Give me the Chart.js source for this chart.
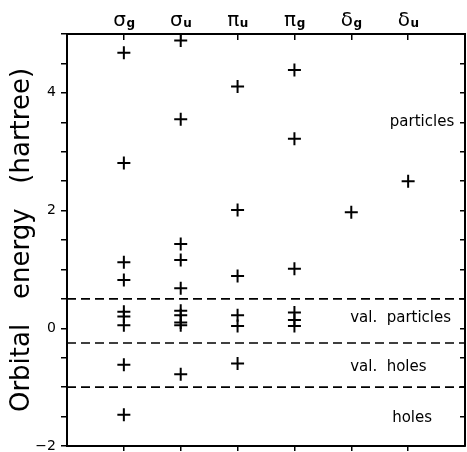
<!DOCTYPE html>
<html>
<head>
<meta charset="utf-8">
<script src="https://cdn.jsdelivr.net/npm/chart.js@4.4.1/dist/chart.umd.min.js"></script>
<style>
  html, body { margin: 0; padding: 0; background: #fff; }
  #wrap { width: 467px; height: 452px; }
</style>
</head>
<body>
<div id="wrap"><canvas id="c" width="467" height="452"></canvas></div>
<script>
// ---- data ----
const symBase = ['σ', 'σ', 'π', 'π', 'δ', 'δ'];
const symSub  = ['g', 'u', 'u', 'g', 'g', 'u'];
const catPos  = [1, 2, 3, 4, 5, 6];

const sigmaG = [4.68, 2.81, 1.12, 0.82, 0.28, 0.20, 0.05, -0.62, -1.47];
const sigmaU = [4.89, 3.55, 1.43, 1.16, 0.68, 0.30, 0.22, 0.10, 0.05, -0.78];
const piU    = [4.11, 2.01, 0.89, 0.22, 0.04, -0.60];
const piG    = [4.39, 3.22, 1.01, 0.27, 0.14, 0.04];
const deltaG = [1.97];
const deltaU = [2.50];

const dividers = [0.5, -0.25, -1.0];
const yTickLabels = [-2, 0, 2, 4];

const regionNames = ['particles', 'val.  particles', 'val.  holes', 'holes'];
const regionCenters = [3.5, 0.18, -0.66, -1.52];

// ---- build ----
const allSeries = [sigmaG, sigmaU, piU, piG, deltaG, deltaU];
const points = [];
allSeries.forEach((arr, i) => arr.forEach(v => points.push({ x: catPos[i], y: v })));

const FONT = "'DejaVu Sans', 'Liberation Sans', sans-serif";

const datasets = [{
  type: 'scatter',
  data: points,
  pointStyle: 'cross',
  pointRadius: 6.5,
  pointBorderWidth: 2,
  borderColor: '#000',
  backgroundColor: '#000',
  order: 1
}];
dividers.forEach(d => datasets.push({
  type: 'line',
  data: [{ x: 0, y: d }, { x: 7, y: d }],
  borderColor: '#000',
  borderWidth: 1.6,
  borderDash: [9, 5],
  pointRadius: 0,
  fill: false,
  order: 2
}));

// region label layout (x anchor in data units, alignment)
const regionLayout = [
  { x: 6.81, align: 'right' },
  { x: 4.98, align: 'left' },
  { x: 4.98, align: 'left' },
  { x: 6.42, align: 'right' }
];

const labelPlugin = {
  id: 'labels',
  afterDraw(chart) {
    const ctx = chart.ctx;
    const xs = chart.scales.x2;
    const ys = chart.scales.y;
    ctx.save();
    ctx.fillStyle = '#000';
    ctx.textBaseline = 'alphabetic';
    // top category labels with subscripts
    for (let i = 0; i < catPos.length; i++) {
      const cx = xs.getPixelForValue(catPos[i]);
      ctx.font = `20px ${FONT}`;
      const w1 = ctx.measureText(symBase[i]).width;
      ctx.font = `bold 12px ${FONT}`;
      const w2 = ctx.measureText(symSub[i]).width;
      const start = cx - (w1 + w2) / 2;
      ctx.textAlign = 'left';
      ctx.font = `20px ${FONT}`;
      ctx.fillText(symBase[i], start, 26);
      ctx.font = `bold 12px ${FONT}`;
      ctx.fillText(symSub[i], start + w1 + 0.5, 27);
    }
    // region labels
    ctx.font = `15px ${FONT}`;
    ctx.textBaseline = 'middle';
    for (let i = 0; i < regionNames.length; i++) {
      const px = chart.scales.x.getPixelForValue(regionLayout[i].x);
      const py = ys.getPixelForValue(regionCenters[i]);
      ctx.textAlign = regionLayout[i].align;
      ctx.fillText(regionNames[i], px, py);
    }
    ctx.restore();
  }
};

function catTicks(scale) {
  scale.ticks = catPos.map(v => ({ value: v }));
}
function noPad(s) {
  s.paddingTop = 0; s.paddingBottom = 0; s.paddingLeft = 0; s.paddingRight = 0;
}

new Chart(document.getElementById('c'), {
  data: { datasets },
  options: {
    responsive: false,
    animation: false,
    events: [],
    layout: { padding: 0, autoPadding: false },
    plugins: { legend: { display: false }, tooltip: { enabled: false } },
    scales: {
      x: {
        type: 'linear', position: 'bottom', min: 0, max: 7,
        afterBuildTicks: catTicks,
        ticks: { display: false },
        grid: { drawOnChartArea: false, drawTicks: true, tickLength: 5, color: '#000', lineWidth: 1.5 },
        border: { display: true, color: '#000', width: 2 },
        afterFit(s) { s.height = 6; noPad(s); }
      },
      x2: {
        type: 'linear', position: 'top', min: 0, max: 7,
        afterBuildTicks: catTicks,
        ticks: { display: false },
        grid: { drawOnChartArea: false, drawTicks: true, tickLength: -6, color: '#000', lineWidth: 1.5 },
        border: { display: true, color: '#000', width: 2 },
        afterFit(s) { s.height = 34; noPad(s); }
      },
      y: {
        type: 'linear', position: 'left', min: -2, max: 5,
        ticks: {
          stepSize: 0.5, autoSkip: false, padding: 5, color: '#000',
          font: { family: FONT, size: 14 },
          callback: v => yTickLabels.includes(v) ? String(v).replace('-', '\u2212') : ''
        },
        grid: { drawOnChartArea: false, drawTicks: true, tickLength: 6, color: '#000', lineWidth: 1.5 },
        border: { display: true, color: '#000', width: 2 },
        title: {
          display: true, text: 'Orbital   energy   (hartree)', color: '#000',
          font: { family: FONT, size: 26 }, padding: { top: 7, bottom: 0 }
        },
        afterFit(s) { s.width = 67; noPad(s); }
      },
      y2: {
        type: 'linear', position: 'right', min: -2, max: 5,
        ticks: { display: false, stepSize: 0.5 },
        grid: { drawOnChartArea: false, drawTicks: true, tickLength: -5, color: '#000', lineWidth: 1.5 },
        border: { display: true, color: '#000', width: 2 },
        afterFit(s) { s.width = 2; noPad(s); }
      }
    }
  },
  plugins: [labelPlugin]
});
</script>
</body>
</html>
